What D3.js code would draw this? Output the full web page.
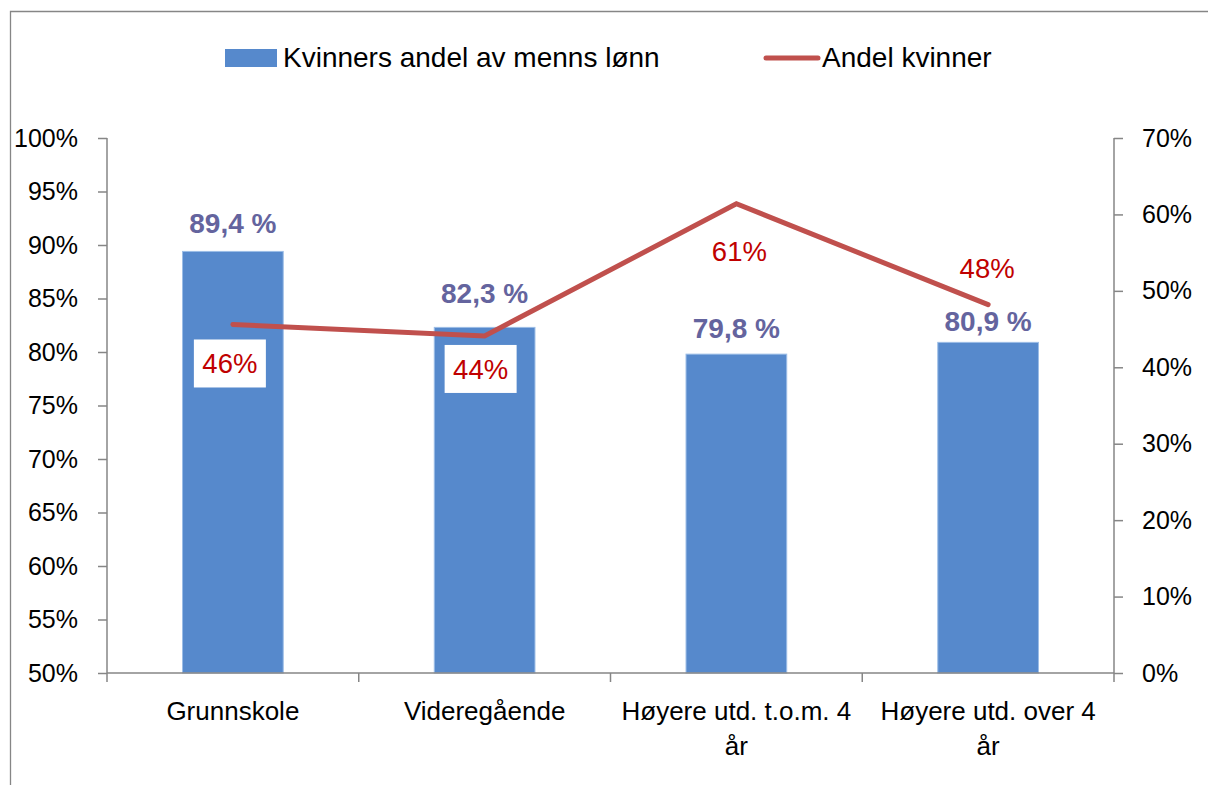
<!DOCTYPE html>
<html>
<head>
<meta charset="utf-8">
<script src="https://cdn.jsdelivr.net/npm/d3@7"></script>
<style>
  html, body { margin: 0; padding: 0; background: #fff; }
  svg { display: block; font-family: "Liberation Sans", Arial, sans-serif; }
</style>
</head>
<body>
<svg id="chart" width="1208" height="785"></svg>
<script>
// ---- data ----
const categories = ["Grunnskole", "Videregående", "Høyere utd. t.o.m. 4 år", "Høyere utd. over 4 år"];
const wageShare = [89.4, 82.3, 79.8, 80.9];      // Kvinners andel av menns lønn (%)
const womenShare = [45.6, 44.1, 61.4, 48.2];     // Andel kvinner (%)
const leftTicks = [50, 55, 60, 65, 70, 75, 80, 85, 90, 95, 100];
const rightTicks = [0, 10, 20, 30, 40, 50, 60, 70];
const seriesNames = ["Kvinners andel av menns lønn", "Andel kvinner"];

// ---- layout (not data) ----
const plot = { left: 107, right: 1114, top: 138, bottom: 673 };
const barLabelGap = [18, 24, 16, 11];          // baseline above bar top
const lineLabelShift = [[-3, 39], [-4, 33], [3, 47], [-1, -37]]; // label centre relative to point

const axisColor = "#868686";
const barColor = "#5689CC";
const barEdge = "#9CBDE6";
const lineColor = "#C0504D";
const barLabelColor = "#64649E";
const lineLabelColor = "#C00000";

const svg = d3.select("#chart");

// outer frame
svg.append("path")
  .attr("d", `M10.5,${785 + 5} V11.5 H${1208 + 5}`)
  .attr("fill", "none").attr("stroke", axisColor).attr("stroke-width", 1.3);

const x = d3.scaleBand().domain(categories).range([plot.left, plot.right]).paddingInner(0).paddingOuter(0);
const yL = d3.scaleLinear().domain([50, 100]).range([plot.bottom, plot.top]);
const yR = d3.scaleLinear().domain([0, 70]).range([plot.bottom, plot.top]);
const barW = x.bandwidth() * 0.4;

// bars
svg.append("g").selectAll("rect").data(categories).join("rect")
  .attr("x", d => x(d) + (x.bandwidth() - barW) / 2)
  .attr("y", (d, i) => yL(wageShare[i]))
  .attr("width", barW)
  .attr("height", (d, i) => yL(50) - yL(wageShare[i]))
  .attr("fill", barColor)
  .attr("stroke", barEdge).attr("stroke-width", 1);

// axes
const fmtPct = v => v + "%";
const leftAxis = svg.append("g").attr("transform", `translate(${plot.left},0)`)
  .call(d3.axisLeft(yL).tickValues(leftTicks).tickFormat(fmtPct).tickSize(9).tickPadding(20));
const rightAxis = svg.append("g").attr("transform", `translate(${plot.right},0)`)
  .call(d3.axisRight(yR).tickValues(rightTicks).tickFormat(fmtPct).tickSize(9).tickPadding(19));
const bottomAxis = svg.append("g").attr("transform", `translate(0,${plot.bottom})`)
  .call(d3.axisBottom(x).tickValues([]).tickSize(0));

// category boundary ticks
const edges = categories.map(c => x(c)).concat([plot.right]);
svg.append("g").selectAll("line").data(edges).join("line")
  .attr("x1", d => d).attr("x2", d => d)
  .attr("y1", plot.bottom).attr("y2", plot.bottom + 9)
  .attr("stroke", axisColor).attr("stroke-width", 1.5);

[leftAxis, rightAxis, bottomAxis].forEach(g => {
  g.selectAll(".domain").attr("stroke", axisColor).attr("stroke-width", 1.5);
  g.selectAll(".tick line").attr("stroke", axisColor).attr("stroke-width", 1.5);
  g.selectAll(".tick text").attr("fill", "#000").attr("font-size", 25)
    .attr("font-family", "'Liberation Sans', Arial, sans-serif");
});
leftAxis.select(".domain").attr("d", `M0,${plot.top}V${plot.bottom}`);
rightAxis.select(".domain").attr("d", `M0,${plot.top}V${plot.bottom}`);
bottomAxis.select(".domain").attr("d", `M${plot.left},0H${plot.right}`);

// category labels with wrapping
const catG = svg.append("g").attr("font-size", 26).attr("text-anchor", "middle").attr("fill", "#000");
categories.forEach(c => {
  const cx = x(c) + x.bandwidth() / 2;
  const t = catG.append("text").attr("x", cx).attr("y", 720);
  const words = c.split(" ");
  let line = [];
  let tspan = t.append("tspan").attr("x", cx).attr("dy", 0);
  words.forEach(w => {
    line.push(w);
    tspan.text(line.join(" "));
    if (tspan.node().getComputedTextLength() > 240 && line.length > 1) {
      line.pop();
      tspan.text(line.join(" "));
      line = [w];
      tspan = t.append("tspan").attr("x", cx).attr("dy", 35).text(w);
    }
  });
});

// bar value labels
svg.append("g").selectAll("text").data(categories).join("text")
  .attr("x", d => x(d) + x.bandwidth() / 2)
  .attr("y", (d, i) => yL(wageShare[i]) - barLabelGap[i])
  .attr("text-anchor", "middle")
  .attr("font-size", 28).attr("font-weight", "bold")
  .attr("fill", barLabelColor)
  .text((d, i) => wageShare[i].toFixed(1).replace(".", ",") + " %");

// white label boxes (under the line)
const lblPos = womenShare.map((v, i) => [
  x(categories[i]) + x.bandwidth() / 2 + lineLabelShift[i][0],
  yR(v) + lineLabelShift[i][1]
]);
svg.append("g").selectAll("rect").data(lblPos).join("rect")
  .attr("x", d => d[0] - 36).attr("y", d => d[1] - 24)
  .attr("width", 72).attr("height", 48).attr("fill", "#fff");

// line
const line = d3.line()
  .x((d, i) => x(categories[i]) + x.bandwidth() / 2)
  .y(d => yR(d));
svg.append("path").datum(womenShare)
  .attr("d", line)
  .attr("fill", "none").attr("stroke", lineColor)
  .attr("stroke-width", 5).attr("stroke-linecap", "round").attr("stroke-linejoin", "miter");

// line value labels
svg.append("g").selectAll("text").data(womenShare).join("text")
  .attr("x", (d, i) => lblPos[i][0]).attr("y", (d, i) => lblPos[i][1]).attr("dy", "0.36em")
  .attr("text-anchor", "middle").attr("font-size", 27.5).attr("fill", lineLabelColor)
  .text(d => Math.round(d) + "%");

// legend
const leg = svg.append("g").attr("font-size", 28).attr("fill", "#000");
leg.append("rect").attr("x", 225).attr("y", 49).attr("width", 52).attr("height", 18).attr("fill", barColor);
leg.append("text").attr("x", 283).attr("y", 67).text(seriesNames[0]);
leg.append("line").attr("x1", 766).attr("x2", 818).attr("y1", 58).attr("y2", 58)
  .attr("stroke", lineColor).attr("stroke-width", 5).attr("stroke-linecap", "round");
leg.append("text").attr("x", 822).attr("y", 67).text(seriesNames[1]);
</script>
</body>
</html>
